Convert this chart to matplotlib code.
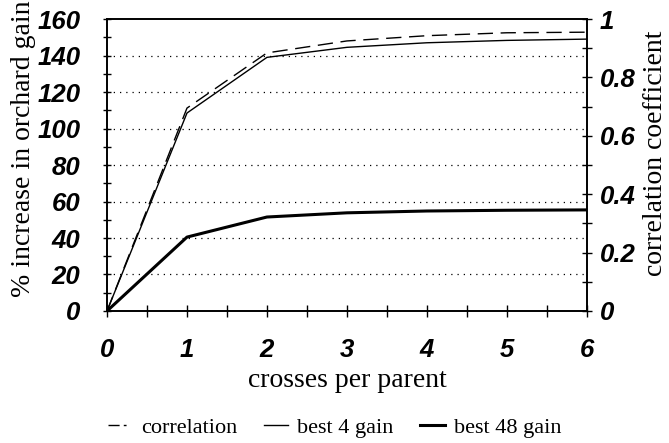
import matplotlib.pyplot as plt
from matplotlib.lines import Line2D
from matplotlib.ticker import MultipleLocator

crosses = [0, 1, 2, 3, 4, 5, 6]
correlation = [0, 0.695, 0.884, 0.925, 0.943, 0.953, 0.955]
best4_gain = [0, 108.5, 139, 144.5, 147, 148.3, 149]
best48_gain = [0, 40.5, 51.5, 53.8, 54.8, 55.2, 55.4]

label_font = {'family': 'Liberation Serif', 'size': 20}

fig = plt.figure(figsize=(6.69, 4.43), dpi=100)
ax = fig.add_axes([0.16, 0.298, 0.717, 0.659])
ax2 = ax.twinx()

ax2.plot(crosses, correlation, color='black', lw=1.0, dashes=(11, 5.5))
l2, = ax.plot(crosses, best4_gain, color='black', lw=1.0)
l3, = ax.plot(crosses, best48_gain, color='black', lw=2.2)

ax.set_xlim(0, 6)
ax.set_ylim(0, 160)
ax2.set_ylim(0, 1)

for y in range(20, 160, 20):
    ax.axhline(y, color='black', lw=0.9, ls=(0, (1, 4)), zorder=0)

ax.xaxis.set_major_locator(MultipleLocator(1))
ax.xaxis.set_minor_locator(MultipleLocator(0.5))
ax.yaxis.set_major_locator(MultipleLocator(20))
ax.yaxis.set_minor_locator(MultipleLocator(10))
ax2.yaxis.set_minor_locator(MultipleLocator(0.1))
ax2.set_yticks([0, 0.2, 0.4, 0.6, 0.8, 1.0])
ax2.set_yticklabels(['0', '0.2', '0.4', '0.6', '0.8', '1'])

ax.tick_params(axis='x', which='both', direction='inout', length=9, width=1, pad=15)
ax.tick_params(axis='y', which='both', direction='inout', length=6, width=1, pad=16)
ax2.tick_params(axis='y', which='both', direction='inout', length=7, width=1, pad=6)

for lab in ax.get_xticklabels() + ax.get_yticklabels() + ax2.get_yticklabels():
    lab.set_family('Liberation Sans')
    lab.set_weight('bold')
    lab.set_style('italic')
    lab.set_size(18.5)

for a in (ax, ax2):
    for s in a.spines.values():
        s.set_linewidth(1.2)

ax.set_xlabel('crosses per parent', fontdict=label_font, labelpad=4)
fig.text(24 / 669, 1 - 149 / 443, '% increase in orchard gain', fontdict=label_font,
         rotation=90, ha='center', va='center')
fig.text(656 / 669, 1 - 153 / 443, 'correlation coefficient', fontdict=label_font,
         rotation=90, ha='center', va='center')

# legend proxy: long dash then short dash, as in the printed key
l1 = Line2D([], [], color='black', lw=1.0, dashes=(8, 3, 2, 40))

fig.legend([l1, l2, l3], ['correlation', 'best 4 gain', 'best 48 gain'],
           loc='center', bbox_to_anchor=(0.5, 0.034), ncol=3, frameon=False,
           prop={'family': 'Liberation Serif', 'size': 16},
           handlelength=1.1, handletextpad=0.4, columnspacing=1.2)

fig.savefig('out.png', dpi=100)
